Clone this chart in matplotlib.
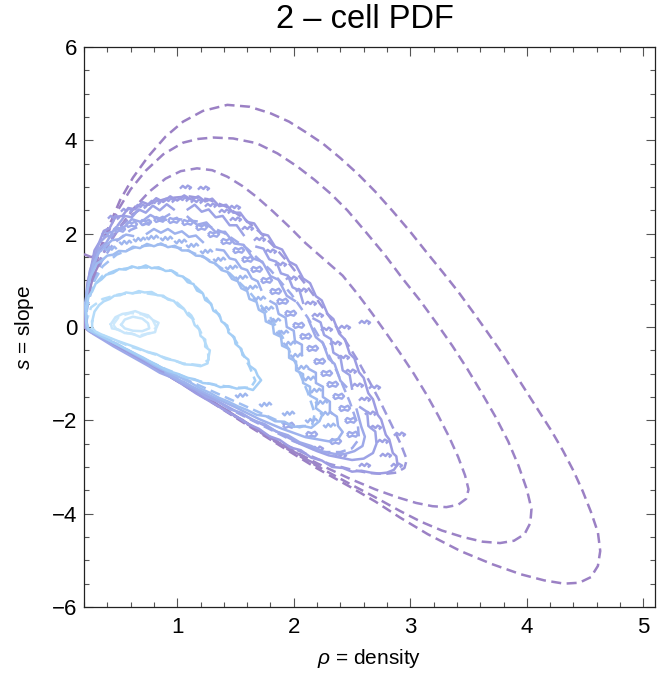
#!/usr/bin/env python3
# 2-cell PDF: dashed = theory contours, solid wiggly = measured contours
# all curves below are traced off the reference picture by hand (rho, s)

import matplotlib
matplotlib.use("Agg")
import matplotlib.pyplot as plt
from matplotlib.ticker import MultipleLocator

plt.rcParams['font.family'] = ['Liberation Sans', 'DejaVu Sans']
plt.rcParams['mathtext.fontset'] = 'custom'
plt.rcParams['mathtext.it'] = 'Liberation Sans:italic'
plt.rcParams['mathtext.rm'] = 'Liberation Sans'

nan = float('nan')  # gap in a measured contour

# ---- theory contours (dashed), outermost first ----
dashA_rho = [0.205, 0.21, 0.23, 0.27, 0.32, 0.37, 0.43, 0.51, 0.62, 0.75, 0.90, 1.05, 1.22, 1.43, 1.62, 1.80,
             1.96, 2.10, 2.25, 2.40, 2.55, 2.70, 2.85, 3.00, 3.14, 3.28, 3.41, 3.53, 3.65, 3.77, 3.88, 3.99,
             4.10, 4.21, 4.31, 4.40, 4.48, 4.55, 4.61, 4.63, 4.61, 4.55, 4.45, 4.32, 4.15, 3.95, 3.70, 3.43,
             3.15, 2.91, 2.70, 2.48, 2.20, 1.90, 1.60, 1.30, 1.00, 0.70, 0.50, 0.30, 0.205]
dashA_s = [0.0, 0.2, 0.6, 1.15, 1.55, 1.90, 2.25, 2.72, 3.20, 3.65, 4.08, 4.40, 4.63, 4.76, 4.72, 4.58,
           4.40, 4.18, 3.93, 3.62, 3.28, 2.90, 2.48, 2.04, 1.60, 1.17, 0.76, 0.35, -0.07, -0.50, -0.93, -1.36,
           -1.79, -2.22, -2.65, -3.08, -3.52, -3.96, -4.40, -4.80, -5.12, -5.36, -5.48, -5.50, -5.43, -5.30, -5.08, -4.80,
           -4.44, -4.08, -3.74, -3.42, -3.03, -2.57, -2.10, -1.62, -1.16, -0.72, -0.43, -0.15, 0.0]

dashB_rho = [0.205, 0.21, 0.23, 0.27, 0.32, 0.37, 0.42, 0.49, 0.60, 0.73, 0.88, 1.05, 1.18, 1.31, 1.48, 1.68,
             1.86, 2.03, 2.18, 2.32, 2.46, 2.62, 2.78, 2.93, 3.08, 3.22, 3.36, 3.49, 3.61, 3.73, 3.84, 3.93,
             4.00, 4.04, 4.03, 3.98, 3.89, 3.77, 3.62, 3.45, 3.27, 3.09, 2.91, 2.70, 2.48, 2.20, 1.90, 1.60,
             1.30, 1.00, 0.70, 0.50, 0.30, 0.205]
dashB_s = [0.0, 0.2, 0.6, 1.1, 1.5, 1.8, 2.1, 2.5, 2.95, 3.35, 3.70, 3.95, 4.03, 4.06, 4.04, 3.94,
           3.72, 3.44, 3.15, 2.85, 2.50, 2.03, 1.55, 1.05, 0.58, 0.10, -0.40, -0.90, -1.40, -1.92, -2.45, -2.98,
           -3.48, -3.90, -4.20, -4.44, -4.58, -4.63, -4.60, -4.50, -4.36, -4.17, -3.94, -3.65, -3.36, -2.98, -2.55, -2.08,
           -1.61, -1.15, -0.72, -0.43, -0.15, 0.0]

dashC_rho = [0.205, 0.21, 0.235, 0.28, 0.33, 0.38, 0.44, 0.52, 0.63, 0.76, 0.90, 1.03, 1.17, 1.30, 1.43, 1.56,
             1.68, 1.82, 1.96, 2.10, 2.26, 2.42, 2.55, 2.67, 2.79, 2.91, 3.03, 3.14, 3.24, 3.33, 3.41, 3.47,
             3.50, 3.48, 3.41, 3.31, 3.19, 3.05, 2.89, 2.70, 2.48, 2.20, 1.90, 1.60, 1.30, 1.00, 0.70, 0.50,
             0.30, 0.205]
dashC_s = [0.0, 0.2, 0.6, 1.05, 1.4, 1.64, 1.88, 2.18, 2.55, 2.90, 3.18, 3.34, 3.40, 3.36, 3.22, 3.02,
           2.79, 2.48, 2.15, 1.80, 1.45, 1.10, 0.70, 0.30, -0.12, -0.55, -1.00, -1.45, -1.90, -2.34, -2.78, -3.18,
           -3.48, -3.68, -3.81, -3.86, -3.84, -3.77, -3.65, -3.48, -3.25, -2.92, -2.52, -2.06, -1.60, -1.14, -0.71, -0.42,
           -0.15, 0.0]

dashD_rho = [0.205, 0.21, 0.235, 0.27, 0.32, 0.40, 0.50, 0.62, 0.76, 0.92, 1.10, 1.26, 1.42, 1.57, 1.71, 1.84,
             1.97, 2.09, 2.21, 2.33, 2.44, 2.55, 2.65, 2.75, 2.84, 2.92, 2.97, 2.95, 2.88, 2.78, 2.65, 2.50,
             2.30, 2.05, 1.80, 1.55, 1.30, 1.00, 0.70, 0.50, 0.30, 0.205]
dashD_s = [0.0, 0.3, 0.65, 1.0, 1.35, 1.75, 2.12, 2.42, 2.64, 2.76, 2.80, 2.74, 2.58, 2.33, 2.03, 1.70,
           1.33, 0.95, 0.55, 0.14, -0.28, -0.72, -1.17, -1.64, -2.10, -2.52, -2.84, -3.02, -3.12, -3.15, -3.13, -3.06,
           -2.93, -2.66, -2.38, -1.99, -1.59, -1.13, -0.70, -0.41, -0.14, 0.0]

dashE_rho = [0.205, 0.23, 0.28, 0.35, 0.45, 0.60, 0.78, 0.98, 1.18, 1.40, 1.60, 1.80, 1.98, 2.12, 2.25, 2.37,
             2.48, 2.55, 2.56, 2.50, 2.40, 2.25, 2.0, 1.5, 1.0, 0.7, 0.5, 0.3, 0.205]
dashE_s = [0.0, 0.45, 0.95, 1.4, 1.78, 2.08, 2.26, 2.32, 2.26, 2.02, 1.68, 1.22, 0.7, 0.2, -0.35, -0.95,
           -1.6, -2.1, -2.4, -2.6, -2.68, -2.68, -2.45, -1.82, -1.1, -0.68, -0.4, -0.13, 0.0]

dashF_rho = [0.205, 0.23, 0.28, 0.36, 0.48, 0.65, 0.85, 1.05, 1.25, 1.45, 1.62, 1.78, 1.90, 2.02, 2.12, 2.18,
             2.16, 2.05, 1.90, 1.5, 1.0, 0.7, 0.5, 0.3, 0.205]
dashF_s = [0.0, 0.5, 0.95, 1.3, 1.55, 1.72, 1.77, 1.68, 1.47, 1.15, 0.75, 0.28, -0.2, -0.8, -1.4, -1.85,
           -2.08, -2.15, -2.05, -1.6, -1.04, -0.66, -0.39, -0.13, 0.0]

dashG_rho = [0.205, 0.22, 0.27, 0.36, 0.48, 0.62, 0.80, 0.96, 1.10, 1.22, 1.33, 1.44, 1.54, 1.62, 1.67, 1.63,
             1.50, 1.30, 1.10, 0.90, 0.70, 0.50, 0.30, 0.205]
dashG_s = [0.0, 0.4, 0.85, 1.1, 1.22, 1.28, 1.27, 1.2, 1.0, 0.72, 0.35, -0.05, -0.45, -0.85, -1.15, -1.3,
           -1.3, -1.23, -1.1, -0.9, -0.66, -0.4, -0.14, 0.0]

dashH_rho = [0.21, 0.26, 0.36, 0.50, 0.68, 0.85, 1.0, 1.12, 1.20, 1.26, 1.27, 1.20, 1.05, 0.85, 0.60, 0.40, 0.25, 0.21]
dashH_s = [0.05, 0.42, 0.60, 0.70, 0.74, 0.68, 0.52, 0.25, -0.1, -0.45, -0.7, -0.82, -0.78, -0.62, -0.42, -0.22, -0.05, 0.05]

dashI_rho = [0.45, 0.50, 0.60, 0.70, 0.79, 0.82, 0.78, 0.68, 0.57, 0.48, 0.45]
dashI_s = [0.05, 0.22, 0.30, 0.27, 0.15, 0.0, -0.12, -0.18, -0.13, -0.05, 0.05]

# ---- measured (noisy) contours, innermost first ----
L1_rho = [0.43, 0.47, 0.53, 0.58, 0.64, 0.69, 0.75, 0.79, 0.84, 0.82, 0.81, 0.74, 0.68, 0.61, 0.55, 0.49, 0.44, 0.43]
L1_s = [0.06, 0.21, 0.28, 0.30, 0.34, 0.29, 0.25, 0.15, 0.09, -0.02, -0.11, -0.15, -0.21, -0.14, -0.13, -0.05, -0.03, 0.06]
L1b_rho = [0.52, 0.55, 0.62, 0.70, 0.75, 0.76, 0.70, 0.62, 0.55, 0.52]
L1b_s = [0.05, 0.16, 0.22, 0.18, 0.08, -0.03, -0.09, -0.08, -0.03, 0.05]

L2_rho = [0.27, 0.29, 0.33, 0.37, 0.42, 0.46, 0.51, 0.56, 0.62, 0.67, 0.72, 0.78, 0.83, 0.88, 0.92, 0.97, 1.01, 1.06,
          1.09, 1.13, 1.15, 1.19, 1.20, 1.24, 1.24, 1.28, 1.27, 1.26, 1.20, 1.13, 1.06, 0.98, 0.90, 0.82, 0.74, 0.65,
          0.57, 0.49, 0.42, 0.35, 0.30, 0.27, 0.27]
L2_s = [0.12, 0.33, 0.47, 0.55, 0.60, 0.67, 0.68, 0.74, 0.72, 0.77, 0.74, 0.75, 0.68, 0.67, 0.59, 0.56, 0.45, 0.38,
        0.26, 0.18, 0.04, -0.05, -0.19, -0.27, -0.42, -0.50, -0.64, -0.78, -0.84, -0.81, -0.80, -0.72, -0.68, -0.58, -0.53, -0.44,
        -0.37, -0.30, -0.23, -0.16, -0.10, -0.02, 0.12]

L3_rho = [0.22, 0.24, 0.27, 0.30, 0.35, 0.39, 0.45, 0.50, 0.56, 0.61, 0.67, 0.73, 0.78, 0.84, 0.90, 0.95, 1.00, 1.05,
          1.09, 1.14, 1.17, 1.22, 1.24, 1.29, 1.31, 1.36, 1.38, 1.43, 1.44, 1.49, 1.50, 1.55, 1.56, 1.61, 1.62, 1.67,
          1.69, 1.72, 1.68, 1.65, 1.58, 1.51, 1.44, 1.37, 1.30, 1.22, 1.15, 1.07, 1.00, 0.92, 0.85, 0.78, 0.71, 0.63,
          0.56, 0.49, 0.42, 0.35, 0.29, 0.24, 0.22, 0.22]
L3_s = [0.43, 0.66, 0.76, 0.93, 1.02, 1.12, 1.16, 1.24, 1.23, 1.30, 1.26, 1.32, 1.26, 1.28, 1.20, 1.21, 1.11, 1.08,
        0.96, 0.92, 0.78, 0.72, 0.58, 0.50, 0.35, 0.27, 0.12, 0.03, -0.12, -0.22, -0.36, -0.47, -0.60, -0.70, -0.83, -0.92,
        -1.04, -1.14, -1.26, -1.35, -1.30, -1.32, -1.27, -1.29, -1.22, -1.20, -1.12, -1.08, -1.00, -0.94, -0.85, -0.76, -0.66, -0.56,
        -0.47, -0.38, -0.29, -0.20, -0.12, -0.06, 0.10, 0.43]

L4_rho = [0.21, 0.23, 0.25, 0.28, 0.31, 0.35, 0.40, 0.45, 0.50, 0.56, 0.62, 0.68, 0.74, 0.80, 0.86, 0.92, 0.98, 1.04,
          1.10, 1.16, 1.22, 1.28, 1.33, 1.38, 1.43, 1.47, 1.52, 1.55, 1.60, 1.62, 1.68, 1.70, 1.75, 1.76, 1.82, 1.83,
          1.89, 1.90, 1.96, 1.96, 2.02, 2.02, 2.08, 2.08, 2.14, 2.14, 2.20, 2.19, 2.25, 2.22, 2.15, 2.08, 2.00, 1.92,
          1.84, 1.76, 1.68, 1.60, 1.52, 1.44, 1.36, 1.28, 1.20, 1.12, 1.04, 0.96, 0.88, 0.80, 0.72, 0.64, 0.56, 0.48,
          0.40, 0.32, 0.26, 0.22, 0.21]
L4_s = [0.50, 0.80, 1.05, 1.20, 1.36, 1.42, 1.53, 1.55, 1.63, 1.62, 1.72, 1.69, 1.78, 1.73, 1.79, 1.71, 1.74, 1.64,
        1.64, 1.53, 1.52, 1.40, 1.36, 1.22, 1.18, 1.03, 0.98, 0.83, 0.77, 0.60, 0.54, 0.37, 0.30, 0.12, 0.05, -0.14,
        -0.21, -0.40, -0.47, -0.66, -0.74, -0.93, -1.01, -1.20, -1.28, -1.47, -1.55, -1.74, -1.85, -2.02, -2.16, -2.12, -2.14, -2.03,
        -2.02, -1.91, -1.88, -1.78, -1.70, -1.60, -1.52, -1.41, -1.32, -1.20, -1.10, -1.01, -0.92, -0.82, -0.70, -0.59, -0.48, -0.37,
        -0.27, -0.17, -0.09, -0.02, 0.50]

# in-between wiggles of the band (open, broken lines)
M1_rho = [0.24, 0.28, 0.33, 0.38, 0.44, 0.50, 0.56, 0.62, 0.68, 0.74, 0.80, 0.86, 0.92, 0.98, 1.04, 1.10, 1.16, 1.22,
          1.28, 1.34, 1.40, 1.45, 1.50, 1.55, 1.60, 1.64, 1.69, 1.72, 1.77, 1.80, 1.85, 1.87, 1.93, 1.94, 2.00, 2.01,
          2.07, 2.07, 2.13, 2.13, 2.19, 2.19, 2.25, 2.25, 2.31, 2.31, 2.37, 2.38, 2.42, 2.38, 2.30, 2.10, 1.90, 1.70,
          1.50, 1.30, 1.10, 0.90]
M1_s = [0.90, 1.35, 1.60, 1.72, 1.86, 1.88, 1.98, 1.95, nan, 2.00, 2.10, 2.02, 2.10, 2.00, 2.05, 1.93, 1.96, 1.82,
        nan, 1.66, 1.64, 1.47, 1.44, 1.26, 1.22, 1.04, 0.98, 0.80, nan, 0.55, 0.48, 0.28, 0.20, 0.00, -0.08, -0.30,
        -0.38, -0.60, nan, -0.90, -0.98, -1.20, -1.28, -1.50, -1.60, -1.82, -1.92, -2.12, -2.25, -2.40, -2.45, -2.36, -2.18, -1.97,
        -1.72, -1.49, -1.24, -0.98]

M2_rho = [0.22, 0.25, 0.29, 0.33, 0.38, 0.43, 0.49, 0.55, 0.61, 0.67, 0.73, 0.79, 0.85, 0.91, 0.97, 1.03, 1.09, 1.15,
          1.21, 1.27, 1.33, 1.39, 1.45, 1.51, 1.57, 1.63, 1.68, 1.74, 1.79, 1.85, 1.89, 1.95, 1.99, 2.05, 2.08, 2.14,
          2.17, 2.23, 2.26, 2.32, 2.34, 2.40, 2.42, 2.48, 2.50, 2.56, 2.57, 2.63, 2.64, 2.70, 2.71, 2.68, 2.60, 2.50,
          2.40, 2.30, 2.20, 2.05, 1.90, 1.70, 1.50, 1.30, 1.10, 0.90]
M2_s = [0.70, 1.20, 1.50, 1.80, 1.92, nan, 2.18, 2.38, 2.35, 2.52, 2.45, 2.60, 2.50, 2.63, 2.52, nan, 2.52, 2.62,
        2.47, 2.52, 2.35, 2.38, 2.18, 2.18, 1.97, nan, 1.72, 1.68, 1.45, 1.40, 1.15, 1.10, 0.85, 0.78, 0.52, nan,
        0.18, 0.10, -0.17, -0.26, -0.55, -0.64, -0.93, -1.03, -1.32, nan, -1.72, -1.82, -2.12, -2.24, -2.50, -2.70, -2.82, -2.85,
        -2.80, -2.75, -2.66, -2.50, -2.30, -2.05, -1.80, -1.53, -1.26, -0.99]

L5_rho = [0.21, 0.24, 0.28, 0.33, 0.39, 0.46, 0.53, 0.61, 0.69, 0.77, 0.85, 0.93, 1.01, 1.09, 1.17, 1.25, 1.33, 1.41,
          1.49, 1.57, 1.65, 1.73, 1.80, 1.87, 1.94, 2.01, 2.07, 2.13, 2.19, 2.25, 2.30, 2.35, 2.40, 2.45, 2.50, 2.54,
          2.58, 2.61, 2.59, 2.52, 2.44, 2.35, 2.25, 2.15, 2.05, 1.95, 1.85, 1.75, 1.65, 1.55, 1.45, 1.35, 1.25, 1.15,
          1.05, 0.95, 0.85, 0.75, 0.65, 0.55, 0.45, 0.36, 0.28, 0.23, 0.21]
L5_s = [0.40, 0.95, 1.26, 1.68, 1.80, 2.10, 2.10, 2.31, 2.25, 2.40, 2.29, 2.41, nan, 2.36, 2.19, 2.24, 2.03, 2.04,
        1.79, 1.76, 1.47, 1.40, 1.09, 1.01, 0.67, 0.56, nan, 0.13, -0.22, -0.34, -0.68, -0.79, -1.15, -1.28, nan, -1.77,
        -2.14, -2.35, -2.55, -2.66, -2.72, -2.72, -2.67, -2.55, -2.47, -2.32, -2.24, -2.08, -2.00, -1.84, -1.76, -1.60, -1.50, -1.34,
        -1.22, -1.08, -0.98, -0.83, -0.69, -0.55, -0.41, -0.27, -0.15, -0.06, 0.40]

L6_rho = [0.21, 0.23, 0.26, 0.29, 0.33, 0.37, 0.42, 0.47, 0.53, 0.58, 0.64, 0.70, 0.76, 0.82, 0.88, 0.94, 1.00, 1.06,
          1.12, 1.18, 1.24, 1.30, 1.36, 1.42, 1.48, 1.54, 1.60, 1.66, 1.72, 1.78, 1.84, 1.90, 1.96, 2.02, 2.08, 2.14,
          2.19, 2.24, 2.29, 2.34, 2.39, 2.44, 2.48, 2.52, 2.56, 2.60, 2.64, 2.68, 2.72, 2.75, 2.79, 2.82, 2.85, 2.88,
          2.89, 2.86, 2.80, 2.73, 2.66, 2.58, 2.50, 2.42, 2.33, 2.24, 2.15, 2.06, 1.97, 1.88, 1.79, 1.70, 1.61, 1.52,
          1.43, 1.34, 1.25, 1.16, 1.07, 0.98, 0.89, 0.80, 0.71, 0.62, 0.53, 0.44, 0.36, 0.29, 0.23, 0.21]
L6_s = [0.40, 0.95, 1.26, 1.64, 1.81, 2.06, 2.12, 2.36, 2.38, 2.55, 2.52, 2.68, 2.62, 2.76, 2.68, 2.80, 2.71, 2.82,
        2.73, 2.80, 2.69, 2.75, 2.59, 2.62, 2.45, 2.45, 2.25, 2.22, 2.00, 1.96, 1.72, 1.66, 1.40, 1.32, 1.04, 0.94,
        0.66, 0.57, 0.28, 0.17, -0.14, -0.27, -0.57, -0.67, -0.97, -1.09, -1.42, -1.55, -1.88, -1.98, -2.31, -2.41, -2.70, -2.77,
        -2.95, -3.06, -3.12, -3.14, -3.12, -3.08, -3.10, -3.02, -3.00, -2.86, -2.80, -2.64, -2.58, -2.42, -2.34, -2.18, -2.08, -1.94,
        -1.82, -1.68, -1.55, -1.42, -1.27, -1.13, -0.99, -0.86, -0.72, -0.59, -0.46, -0.34, -0.23, -0.13, -0.05, 0.40]

# purple measured edge along the lower boundary and the left side
edge_rho = [0.21, 0.26, 0.30, 0.33, 0.30, 0.27, 0.25, 0.22, 0.21, 0.20, 0.25, 0.30, 0.36, 0.42, 0.48, 0.55, 0.60, 0.66,
            0.72, 0.78, 0.84, 0.90, 0.96, 1.02, 1.08, 1.14, 1.20, 1.26, 1.32, 1.38, 1.44, 1.50, 1.56, 1.62, 1.68, 1.74,
            1.80, 1.86, 1.92, 1.98, 2.04, 2.10, 2.16, 2.22]
edge_s = [1.55, 1.50, 1.52, 1.35, 1.20, 1.00, 0.80, 0.50, 0.20, 0.00, -0.10, -0.16, -0.23, -0.33, -0.40, -0.50, -0.56, -0.67,
          -0.73, -0.83, -0.90, -1.00, -1.07, -1.18, -1.25, -1.37, -1.45, -1.55, -1.62, -1.73, -1.80, -1.92, -1.99, -2.10, -2.18, -2.28,
          -2.36, -2.47, -2.55, -2.65, -2.72, -2.83, -2.90, -3.00]

# small broken pieces that make up the noisy band: inner, middle, outer rows
isl_in_rho = [0.42, 0.55, 0.67, 0.78, 0.90, 1.02, 1.13, 1.25, 1.36, 1.46, 1.55, 1.63, 1.70, 1.77, 1.83, 1.90, 1.96, 2.02,
              2.07, 2.13, 2.18, 2.23, 2.28, 2.30, 2.15, 1.95, 1.75, 1.55]
isl_in_s = [1.70, 1.82, 1.88, 1.92, 1.90, 1.85, 1.75, 1.62, 1.45, 1.28, 1.08, 0.85, 0.62, 0.40, 0.15, -0.10, -0.35, -0.60,
            -0.85, -1.10, -1.35, -1.60, -1.85, -2.10, -2.00, -1.85, -1.65, -1.45]

isl_mid_rho = [0.40, 0.50, 0.60, 0.72, 0.84, 0.96, 1.08, 1.20, 1.31, 1.42, 1.52, 1.60, 1.68, 1.76, 1.84, 1.90, 1.97, 2.04,
               2.10, 2.16, 2.22, 2.28, 2.33, 2.38, 2.43, 2.48, 2.50, 2.35, 2.15, 1.95]
isl_mid_s = [2.00, 2.10, 2.20, 2.25, 2.32, 2.30, 2.25, 2.15, 2.00, 1.85, 1.65, 1.45, 1.25, 1.00, 0.78, 0.55, 0.30, 0.05,
             -0.20, -0.45, -0.72, -0.98, -1.22, -1.48, -1.74, -2.00, -2.30, -2.45, -2.30, -2.10]

isl_out_rho = [0.45, 0.56, 0.68, 0.80, 0.92, 1.04, 1.16, 1.28, 1.40, 1.50, 1.60, 1.70, 1.80, 1.88, 1.98, 2.06, 2.14, 2.20,
               2.28, 2.35, 2.42, 2.48, 2.54, 2.60, 2.65, 2.70, 2.76, 2.78, 2.60, 2.40, 2.20, 1.07, 1.22, 1.49, 2.43,
               2.69, 2.88, 2.90, 2.60]
isl_out_s = [2.35, 2.50, 2.60, 2.68, 2.72, 2.75, 2.70, 2.62, 2.48, 2.32, 2.12, 1.88, 1.62, 1.35, 1.05, 0.80, 0.52, 0.25,
             -0.05, -0.35, -0.65, -0.95, -1.25, -1.55, -1.85, -2.15, -2.45, -2.75, -2.95, -2.75, -2.60, 3.00, 2.97, 2.58, 0.00,
             -1.29, -2.96, -2.30, 0.10]

# colours per level (dashed theory / measured share the level colour)
dash_curves = [
    (dashA_rho, dashA_s, '#9b80c4'),
    (dashB_rho, dashB_s, '#9b82c6'),
    (dashC_rho, dashC_s, '#9c86ca'),
    (dashD_rho, dashD_s, '#9c98dc'),
    (dashE_rho, dashE_s, '#9eaaea'),
    (dashF_rho, dashF_s, '#a0bff2'),
    (dashG_rho, dashG_s, '#a6d0f7'),
    (dashH_rho, dashH_s, '#b6ddfa'),
    (dashI_rho, dashI_s, '#cde9fc'),
]
noisy_curves = [
    (edge_rho, edge_s, '#9c86c8'),
    (L6_rho, L6_s, '#9d9ce2'),
    (M2_rho, M2_s, '#9da3e6'),
    (L5_rho, L5_s, '#9ea9e9'),
    (M1_rho, M1_s, '#9eb2ed'),
    (L4_rho, L4_s, '#9fbcf0'),
    (L3_rho, L3_s, '#a4cef6'),
    (L2_rho, L2_s, '#b4dbf9'),
    (L1_rho, L1_s, '#c9e6fb'),
    (L1b_rho, L1b_s, '#c9e6fb'),
]

# marker shapes for the broken bits (a wavy loop and two worms)
loop_mk = [(-1, 0), (-0.6, 0.45), (0, 0.2), (0.6, 0.5), (1, 0.05), (0.6, -0.4), (0, -0.2), (-0.6, -0.45), (-1, 0)]
worm_mk = [(-1, 0.1), (-0.6, -0.3), (-0.2, 0.25), (0.2, -0.2), (0.6, 0.3), (1, -0.1)]
worm2_mk = [(-1, -0.2), (-0.5, 0.3), (0, -0.1), (0.4, 0.35), (1, 0.0), (0.6, -0.35)]


def main():
    fig = plt.figure(figsize=(6.65, 6.77), dpi=100)
    ax = fig.add_axes([84 / 665, 1 - 607 / 677, 571 / 665, 560 / 677])

    for r, s, c in dash_curves:
        ax.plot(r, s, color=c, lw=1.8, ls=(0, (4, 2.2)), zorder=2)

    ax.plot(isl_in_rho, isl_in_s, ls='none', marker=worm_mk, ms=9, mfc='none', mew=1.7, color='#9eb6ee', zorder=3)
    ax.plot(isl_mid_rho, isl_mid_s, ls='none', marker=loop_mk, ms=8, mfc='none', mew=1.7, color='#9eaaea', zorder=3)
    ax.plot(isl_out_rho, isl_out_s, ls='none', marker=worm2_mk, ms=8, mfc='none', mew=1.7, color='#9da0e4', zorder=3)

    for r, s, c in noisy_curves:
        ax.plot(r, s, color=c, lw=1.8, solid_joinstyle='round', zorder=4)

    ax.set_xlim(0.2, 5.1)
    ax.set_ylim(-6, 6)
    ax.xaxis.set_major_locator(MultipleLocator(1))
    ax.xaxis.set_minor_locator(MultipleLocator(0.2))
    ax.yaxis.set_major_locator(MultipleLocator(2))
    ax.yaxis.set_minor_locator(MultipleLocator(0.5))
    ax.tick_params(which='both', direction='in', top=True, right=True, color='#555555', width=0.8)
    ax.tick_params(which='major', length=6.5, labelsize=16, pad=7)
    ax.tick_params(which='minor', length=3.5)
    ax.tick_params(axis='y', which='major', pad=5)
    for sp in ax.spines.values():
        sp.set_linewidth(0.9)
        sp.set_color('#222222')

    fig.text(365 / 665, 1 - 20 / 677, '2 – cell PDF', fontsize=23.5, ha='center', va='center')
    fig.text(369 / 665, 1 - 659 / 677, r'$\rho$ = density', fontsize=15, ha='center', va='center')
    fig.text(25 / 665, 1 - 327 / 677, r'$s$ = slope', fontsize=15, ha='center', va='center', rotation=90)

    fig.savefig('out.png', dpi=100)


if __name__ == "__main__":
    main()
